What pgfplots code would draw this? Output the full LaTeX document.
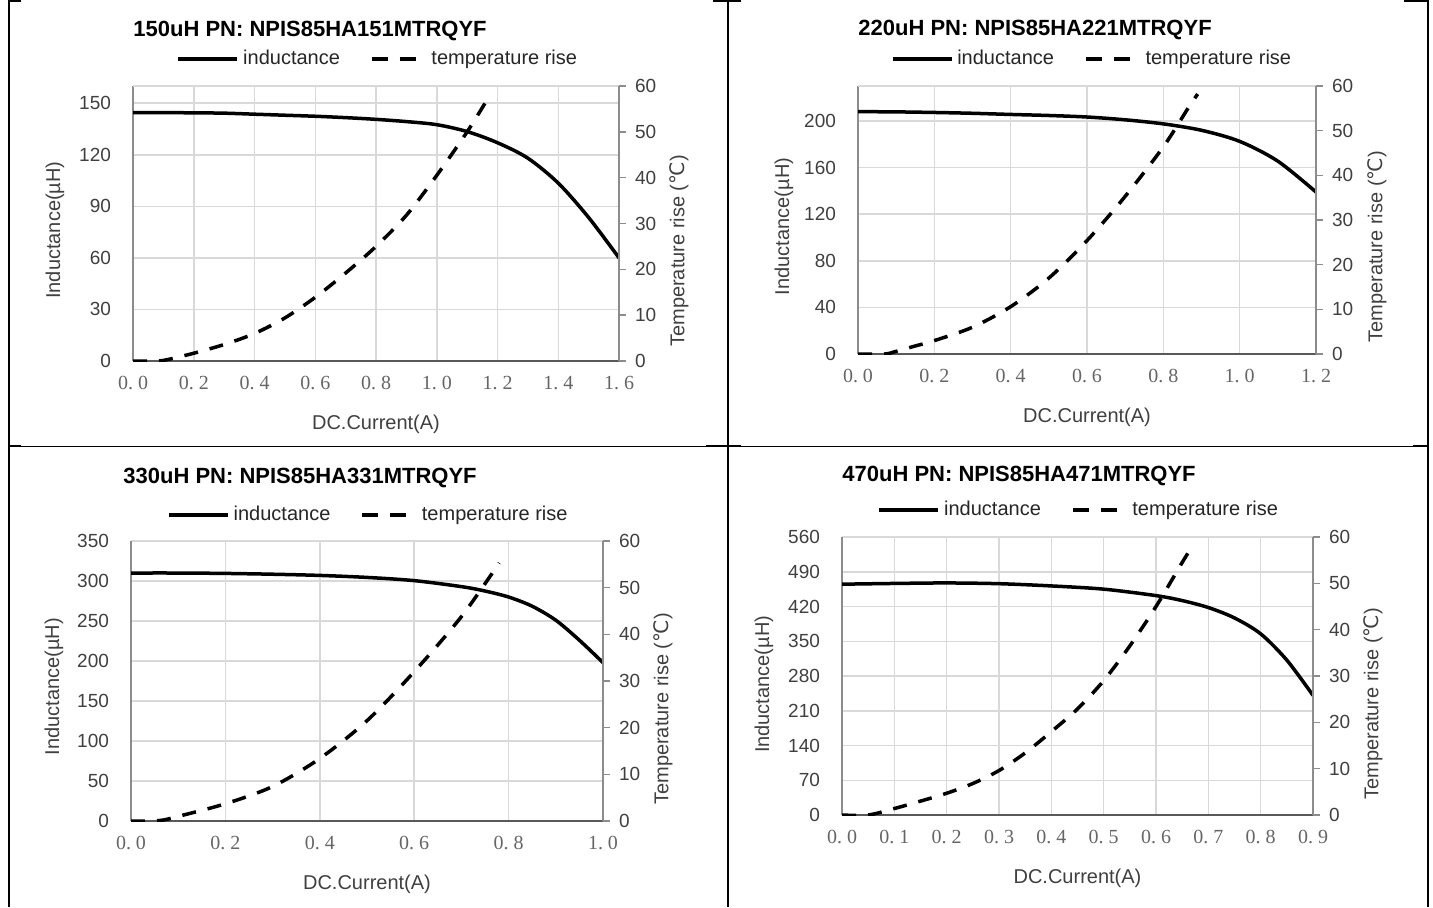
\documentclass[border=0pt]{standalone}
\usepackage{pgfplots}
\pgfplotsset{compat=1.18}
\usepackage{fontspec}
\setmainfont{Liberation Sans}
\newfontfamily\tserif{Liberation Serif}
\newfontfamily\dejavu{DejaVu Sans}
\definecolor{gridc}{HTML}{D9D9D9}
\definecolor{axc}{HTML}{8C8C8C}
\definecolor{axdark}{HTML}{595959}
\definecolor{txt}{HTML}{404040}
\definecolor{xt}{HTML}{666666}
\newcommand\xl[2]{#1.\hspace{0.25em}#2}
\pgfplotsset{
 leftax/.style={
  scale only axis, anchor=south west,
  axis x line*=bottom, axis y line*=left,
  x axis line style={-, draw=axdark, line width=1pt},
  y axis line style={-, draw=axc, line width=0.6pt},
  grid=major, grid style={draw=gridc, line width=0.75pt},
  major tick length=0pt,
  ymin=0, xmin=0,
  /pgf/number format/assume math mode=true,
  xticklabel style={font=\tserif\fontsize{10}{11}\selectfont, text=xt, yshift=-4pt},
  yticklabel style={font=\fontsize{9.5}{10}\selectfont, text=txt, xshift=-7.5pt},
  xlabel style={font=\fontsize{10}{12}\selectfont, text=txt, at={(axis description cs:0.5,0)}, anchor=center, yshift=-31.5pt},
  ylabel style={font=\fontsize{10}{12}\selectfont, text=txt, anchor=center},
  title style={font=\bfseries\fontsize{11}{13}\selectfont, text=black, anchor=base west, inner sep=0pt},
  legend style={draw=none, fill=none, font=\fontsize{10}{11}\selectfont, text=black!85, anchor=center,
    /tikz/every even column/.append style={column sep=13pt}},
  legend columns=2,
  extra y tick labels={},
  extra y tick style={grid=major},
  xlabel={DC.Current(A)},
  ylabel={Inductance(µH)},
 },
 rightax/.style={
  scale only axis, anchor=south west,
  axis y line*=right, axis x line=none,
  y axis line style={-, draw=axc, line width=0.75pt},
  ymin=0, ymax=60, ytick={0,10,...,60}, xmin=0,
  tick align=outside, major tick length=3.5pt,
  ytick style={draw=axc, line width=0.75pt},
  /pgf/number format/assume math mode=true,
  yticklabel style={font=\fontsize{9.5}{10}\selectfont, text=txt, xshift=1pt},
  ylabel style={font=\fontsize{10}{12}\selectfont, text=txt, anchor=center},
  ylabel={Temperature rise ({\dejavu ℃})},
 },
 ind/.style={black, line width=1.75pt, smooth,
   legend image code/.code={\draw[black, line width=1.75pt] (0pt,0pt) -- (29.5pt,0pt);}},
 tmp/.style={black, line width=1.75pt, smooth, dash pattern=on 7pt off 6pt},
}
\newcommand\tmpleg{\addlegendimage{black, line width=1.75pt, legend image code/.code={\draw[black, line width=1.75pt, dash pattern=on 8pt off 6pt] (0pt,0pt) -- (27pt,0pt);}}}
\begin{document}
\begin{tikzpicture}
\fill[white] (0,0) rectangle (716.5pt,-453.5pt);
\path[use as bounding box] (0,0) rectangle (716.5pt,-453.5pt);
\begin{scope}[x=0.5pt,y=-0.5pt]
\draw[line width=1pt] (8.5,0) -- (8.5,907);
\draw[line width=1pt] (727.5,0) -- (727.5,907);
\draw[line width=1pt] (1428,0) -- (1428,907);
\draw[line width=1pt] (8,1) -- (21,1) (713,1) -- (741,1) (1404,1) -- (1429,1);
\draw[line width=0.5pt] (8,446) -- (1428,446);
\draw[line width=1pt] (8,446) -- (21,446) (706,446) -- (741,446) (1413,446) -- (1428,446);
\end{scope}

% ---------------- Panel 1
\begin{axis}[leftax, at={(66.5pt,-180.5pt)}, width=243pt, height=137.5pt,
  xmax=1.6, ymax=160, ytick={0,30,...,150}, extra y ticks={160},
  xtick={0,0.2,0.4,0.6,0.8,1.0,1.2,1.4,1.6},
  xticklabels={\xl00,\xl02,\xl04,\xl06,\xl08,\xl10,\xl12,\xl14,\xl16},
  ylabel style={at={([xshift=-39pt]axis description cs:0,0.476)}},
  title={150uH PN: NPIS85HA151MTRQYF}, title style={at={([yshift=19pt]axis description cs:0,1)}},
  legend style={at={(0.506,1.098)}}]
\addplot[ind] table {
0 144.5
0.1 144.5
0.2 144.4
0.3 144.2
0.4 143.6
0.5 143.0
0.6 142.4
0.7 141.6
0.8 140.6
0.9 139.3
1.0 137.5
1.1 133.5
1.2 127
1.3 118
1.4 103.5
1.5 83.5
1.6 60
};
\addlegendentry{inductance}
\tmpleg
\addlegendentry{temperature rise}
\end{axis}
\begin{axis}[rightax, at={(66.5pt,-180.5pt)}, width=243pt, height=137.5pt, xmax=1.6,
  ylabel style={at={([xshift=30pt]axis description cs:1,0.4)}}]
\addplot[tmp] table {
0 0
0.08 0
0.12 0.4
0.2 1.7
0.3 3.6
0.4 6.0
0.5 9.4
0.6 13.9
0.7 19.2
0.8 25
0.9 31.8
1.0 40.5
1.1 50
1.175 58
};
\end{axis}

% ---------------- Panel 2
\begin{axis}[leftax, at={(429pt,-177pt)}, width=229pt, height=134pt,
  xmax=1.2, ymax=230, ytick={0,40,...,200}, extra y ticks={230},
  xtick={0,0.2,0.4,0.6,0.8,1.0,1.2},
  xticklabels={\xl00,\xl02,\xl04,\xl06,\xl08,\xl10,\xl12},
  ylabel style={at={([xshift=-37pt]axis description cs:0,0.476)}},
  title={220uH PN: NPIS85HA221MTRQYF}, title style={at={([yshift=19.5pt]axis description cs:0,1)}},
  legend style={at={(0.513,1.1)}}]
\addplot[ind] table {
0 208
0.1 207.8
0.2 207.3
0.3 206.6
0.4 205.6
0.5 204.7
0.6 203.4
0.7 201
0.8 197.5
0.9 192
1.0 182.5
1.1 165.5
1.2 139
};
\addlegendentry{inductance}
\tmpleg
\addlegendentry{temperature rise}
\end{axis}
\begin{axis}[rightax, at={(429pt,-177pt)}, width=229pt, height=134pt, xmax=1.2,
  ylabel style={at={([xshift=30.5pt]axis description cs:1,0.4)}}]
\addplot[tmp] table {
0 0
0.07 0
0.1 0.6
0.15 1.8
0.2 3.0
0.3 6.0
0.4 10.6
0.5 17
0.6 25.4
0.7 35.3
0.8 46.4
0.866 55.2
0.89 58.2
};
\end{axis}

% ---------------- Panel 3
\begin{axis}[leftax, at={(65.5pt,-410.5pt)}, width=236pt, height=140pt,
  xmax=1.0, ymax=350, ytick={0,50,...,350},
  xtick={0,0.2,0.4,0.6,0.8,1.0},
  xticklabels={\xl00,\xl02,\xl04,\xl06,\xl08,\xl10},
  ylabel style={at={([xshift=-38.5pt]axis description cs:0,0.48)}},
  title={330uH PN: NPIS85HA331MTRQYF}, title style={at={([xshift=-4pt,yshift=23pt]axis description cs:0,1)}},
  legend style={at={(0.505,1.093)}}]
\addplot[ind] table {
0 310
0.1 310
0.2 309.5
0.3 308.5
0.4 307
0.5 304.5
0.6 300.5
0.7 293
0.75 287.5
0.8 280
0.85 268.5
0.9 251
0.95 226
1.0 198
};
\addlegendentry{inductance}
\tmpleg
\addlegendentry{temperature rise}
\end{axis}
\begin{axis}[rightax, at={(65.5pt,-410.5pt)}, width=236pt, height=140pt, xmax=1.0,
  ylabel style={at={([xshift=30pt]axis description cs:1,0.4)}}]
\addplot[tmp] table {
0 0
0.06 0.1
0.1 1.0
0.2 3.7
0.3 7.4
0.4 13.4
0.5 21.5
0.6 32
0.7 43.8
0.78 55.3
};
\end{axis}

% ---------------- Panel 4
\begin{axis}[leftax, at={(421pt,-407.5pt)}, width=235.5pt, height=139pt,
  xmax=0.9, ymax=560, ytick={0,70,...,560},
  xtick={0,0.1,0.2,0.3,0.4,0.5,0.6,0.7,0.8,0.9},
  xticklabels={\xl00,\xl01,\xl02,\xl03,\xl04,\xl05,\xl06,\xl07,\xl08,\xl09},
  ylabel style={at={([xshift=-39pt]axis description cs:0,0.47)}},
  title={470uH PN: NPIS85HA471MTRQYF}, title style={at={([yshift=22pt]axis description cs:0,1)}},
  legend style={at={(0.505,1.097)}}]
\addplot[ind] table {
0 465
0.1 466.5
0.2 467.5
0.3 466
0.4 461.5
0.5 455
0.6 442
0.65 432
0.7 418
0.75 397
0.8 365
0.85 312
0.9 241
};
\addlegendentry{inductance}
\tmpleg
\addlegendentry{temperature rise}
\end{axis}
\begin{axis}[rightax, at={(421pt,-407.5pt)}, width=235.5pt, height=139pt, xmax=0.9,
  ylabel style={at={([xshift=30pt]axis description cs:1,0.4)}}]
\addplot[tmp] table {
0 0
0.05 0
0.1 1.4
0.15 3.0
0.2 4.7
0.25 6.8
0.3 9.6
0.35 13.4
0.4 18.0
0.45 22.9
0.5 29
0.55 36.5
0.6 45
0.65 54.5
0.672 58.5
};
\end{axis}
\end{tikzpicture}
\end{document}
